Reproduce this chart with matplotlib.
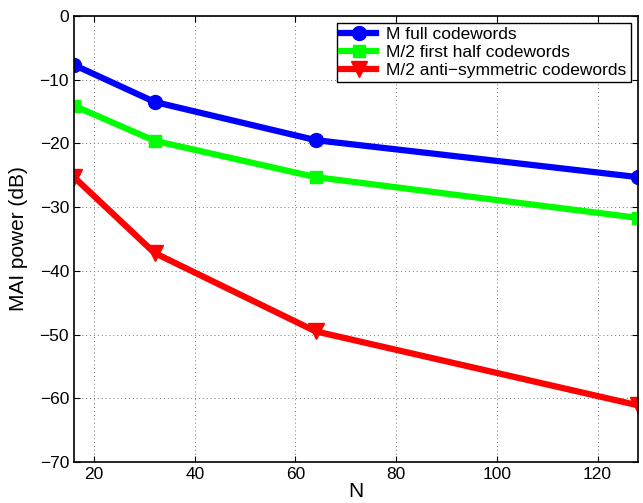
import matplotlib
matplotlib.use("Agg")
import matplotlib.pyplot as plt

N = [16, 32, 64, 128]
full_cw = [-7.7, -13.5, -19.5, -25.3]
first_half = [-14.1, -19.6, -25.3, -31.7]
anti_sym = [-25.3, -37.2, -49.5, -61.1]

plt.rcParams['font.family'] = ['Liberation Sans', 'DejaVu Sans']

fig = plt.figure(figsize=(6.43, 5.03), dpi=100)
ax = fig.add_axes([0.115, 0.0815, 0.877, 0.887])

ax.plot(N, full_cw, color="blue", lw=4.5, marker="o", ms=10, label="M full codewords")
ax.plot(N, first_half, color="#00ff00", lw=4.5, marker="s", ms=9, label="M/2 first half codewords")
ax.plot(N, anti_sym, color="red", lw=4.5, marker="v", ms=12, label="M/2 anti\u2212symmetric codewords")

ax.set_xlim(16, 128)
ax.set_ylim(-70, 0)
ax.set_xticks([20, 40, 60, 80, 100, 120])
ax.set_yticks(range(-70, 1, 10))
ax.set_yticklabels(["\u2212%d" % -v if v < 0 else "0" for v in range(-70, 1, 10)])
ax.grid(True, linestyle=(0, (1, 3)), color="#777777", lw=0.7)
ax.tick_params(direction="in", top=True, right=True, labelsize=12.5, length=4)
for s in ax.spines.values():
    s.set_linewidth(1.2)

ax.set_xlabel("N", fontsize=15, labelpad=0)
ax.set_ylabel("MAI power (dB)", fontsize=15, labelpad=8)

leg = ax.legend(loc="upper right", fontsize=12.5, fancybox=False, edgecolor="black",
                framealpha=1, handlelength=2.0, borderpad=0.25, labelspacing=0.15,
                borderaxespad=0.4, handletextpad=0.6)
leg.get_frame().set_linewidth(1.0)

fig.savefig("out.png", dpi=100)
